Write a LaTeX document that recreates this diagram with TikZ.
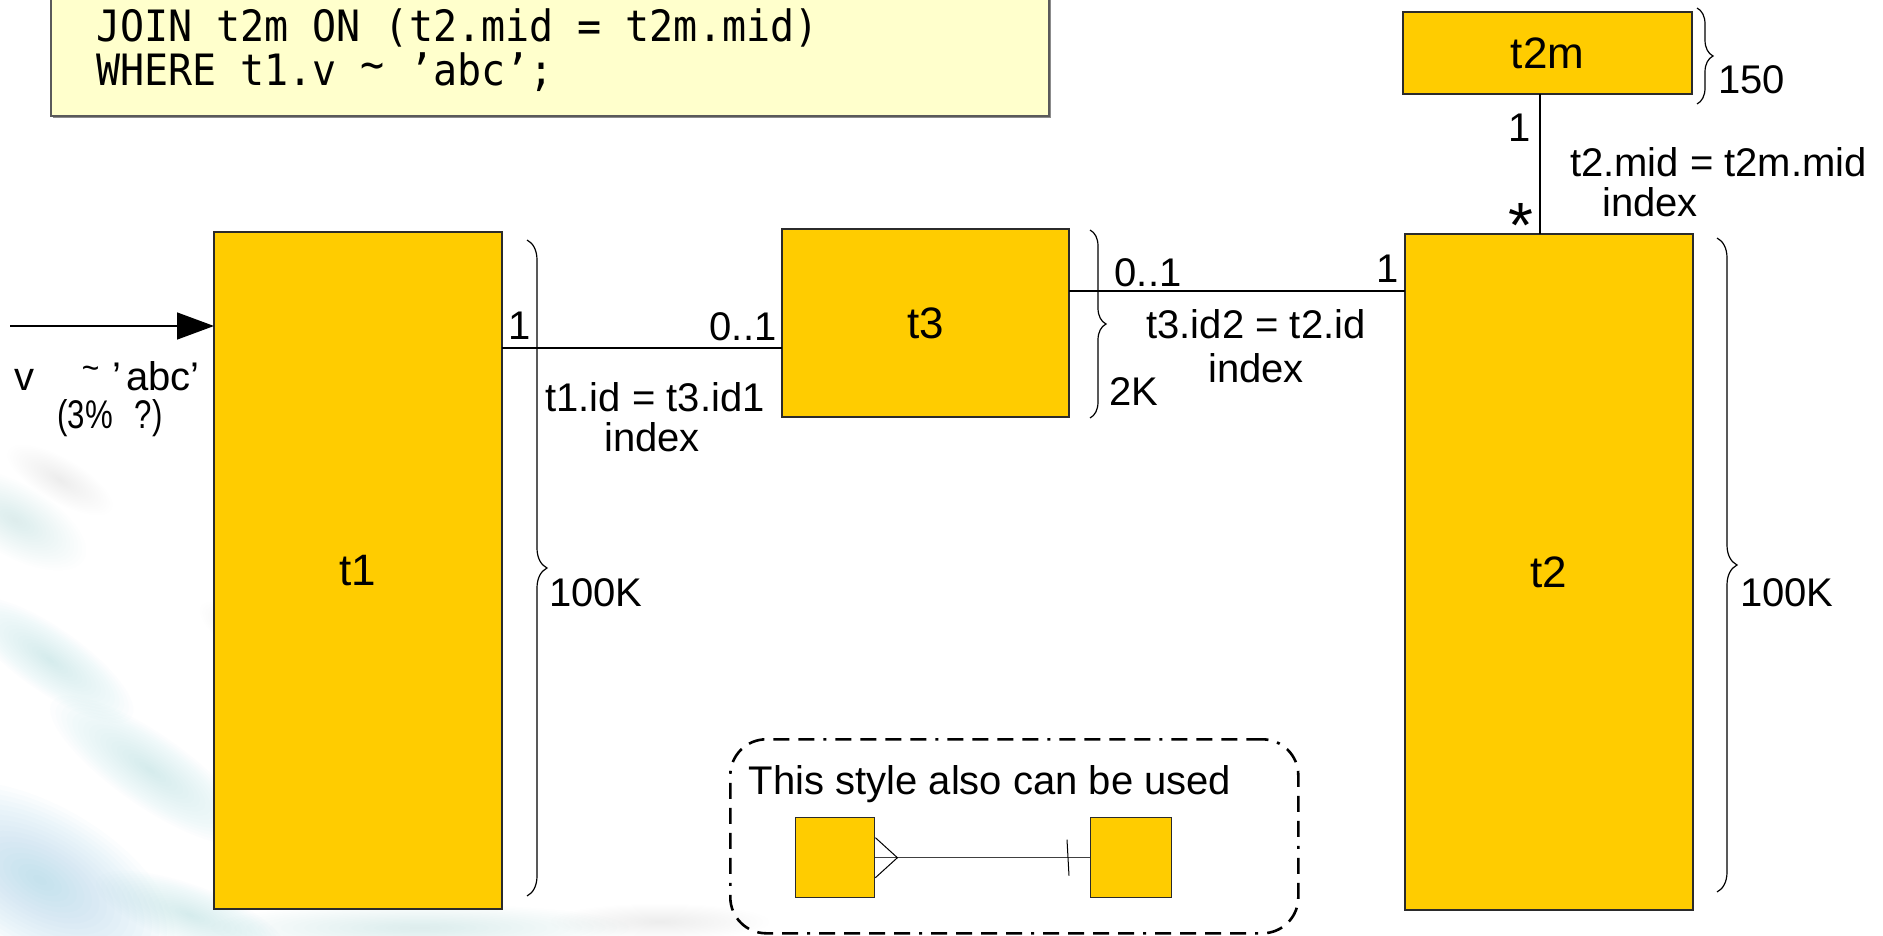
\documentclass[tikz,border=0pt]{standalone}
\usepackage{fontspec}
\setmainfont{Liberation Sans}
\newfontfamily\codefont{DejaVu Sans Mono}
\usetikzlibrary{arrows.meta,decorations.pathreplacing,shadows}

\definecolor{tablefill}{HTML}{FFCC00}
\definecolor{tableedge}{HTML}{2B2B2B}
\definecolor{notefill}{HTML}{FFFFCC}
\definecolor{noteedge}{HTML}{5A5A5A}
\definecolor{washblue}{HTML}{8CCBE6}

\tikzset{
  tablebox/.style={draw=tableedge, line width=1.6pt, fill=tablefill, inner sep=0pt,
    outer sep=0pt, anchor=north west, font=\fontsize{44}{50}\selectfont},
  link/.style={draw=black, line width=1.4pt},
  lbl/.style={inner sep=0pt, outer sep=0pt, font=\fontsize{40}{46}\selectfont},
  codeline/.style={inner sep=0pt, outer sep=0pt, anchor=base west,
    font=\codefont\fontsize{40}{46}\selectfont},
  sizebrace/.style={draw=black, line width=1.2pt, decorate,
    decoration={brace, amplitude=#1}},
  notebox/.style={draw=noteedge, line width=1.5pt, fill=notefill, inner sep=0pt,
    drop shadow={shadow xshift=2pt, shadow yshift=-2pt, fill=black!45, opacity=1}},
  legendframe/.style={draw=black, line width=2.6pt, rounded corners=36pt,
    dash pattern=on 16pt off 9pt on 16pt off 9pt on 16pt off 9pt on 16pt off 9pt on 3pt off 9pt,
    anchor=north west, inner sep=0pt},
  minibox/.style={draw=tableedge, line width=1.4pt, fill=tablefill, inner sep=0pt,
    anchor=north west, minimum height=80pt},
}

\begin{document}
\begin{tikzpicture}[x=1pt, y=-1pt]
  \useasboundingbox (0,0) rectangle (1883,936);
  \clip (0,0) rectangle (1883,936);
  \fill[white] (0,0) rectangle (1883,936);

  % soft watercolour wash in the lower left corner
  \foreach \cx/\cy/\rx/\ry/\ang/\op in {
      40/880/150/75/-30/0.55, 150/770/120/36/-35/0.32, 50/660/100/32/-35/0.32,
      15/520/80/36/-30/0.2, 190/915/100/30/-20/0.32, 420/928/210/24/0/0.2,
      60/480/60/22/-30/0.1, 660/922/110/18/0/0.14, 250/640/60/20/-35/0.14}{
    \foreach \k in {1,...,18}{
      \pgfmathsetmacro\layerop{\op/18}
      \pgfmathsetmacro\shrink{1.05-\k/18}
      \fill[washblue, fill opacity=\layerop, rotate around={\ang:(\cx,\cy)}]
        (\cx,\cy) ellipse [x radius=\rx*\shrink pt, y radius=\ry*\shrink pt];
    }
  }

  % SQL note
  \node[notebox, anchor=south west, minimum width=998pt, minimum height=130pt] (sql) at (50,117) {};
  \node[codeline] (sqlA) at (96,42) {\scalebox{1}[1.08]{JOIN t2m ON (t2.mid = t2m.mid)}};
  \node[codeline] (sqlB) at (96,86)
    {\scalebox{1}[1.08]{WHERE t1.v \raisebox{6pt}{\textasciitilde} ’abc’;}};

  % tables
  \node[tablebox, minimum width=288pt, minimum height=677pt] (t1) at (214,232) {t1};
  \node[tablebox, minimum width=287pt, minimum height=188pt] (t3) at (782,229) {t3};
  \node[tablebox, minimum width=288pt, minimum height=676pt] (t2) at (1405,234) {t2};
  \node[tablebox, minimum width=289pt, minimum height=82pt] (t2m) at (1403,12) {t2m};

  % filter arrow into t1
  \coordinate (vin) at (10,326);
  \draw[link, -{Triangle[length=37pt, width=27pt]}] (vin) -- (vin -| t1.west);
  \node[lbl, anchor=west] (vcond) at (14,376)
    {v\hspace{48pt}\raisebox{11pt}{\scalebox{0.75}[0.85]{\textasciitilde}}\hspace{13pt}’\hspace{5pt}abc’};
  \node[lbl] (vsel) at (110,418) {\scalebox{0.78}[1.0]{(3\%\hspace{28pt}?)}};

  % t1 -- t3
  \draw[link] ([yshift=-116pt]t1.north east) -- ([yshift=-116pt]t1.north east -| t3.west);
  \node[lbl] (m13a) at (520,326) {1};
  \node[lbl] (m13b) at (743,327) {0..1};
  \node[lbl] (j13) at (655,397) {t1.id = t3.id1};
  \node[lbl] (i13) at (652,437) {index};

  % t3 -- t2
  \draw[link] ([yshift=-62pt]t3.north east) -- ([yshift=-62pt]t3.north east -| t2.west);
  \node[lbl] (m32a) at (1148,273) {0..1};
  \node[lbl] (m32b) at (1388,269) {1};
  \node[lbl] (j32) at (1256,324) {t3.id2 = t2.id};
  \node[lbl] (i32) at (1256,368) {index};

  % t2m -- t2
  \draw[link] ([xshift=137pt]t2m.south west) -- ([xshift=137pt]t2m.south west |- t2.north);
  \node[lbl] (m2ma) at (1520,128) {1};
  \node[inner sep=0pt, anchor=base, font=\fontsize{64}{70}\selectfont] (m2mb) at (1521,248) {*};
  \node[lbl, anchor=west] (j2m) at (1570,162) {t2.mid = t2m.mid};
  \node[lbl] (i2m) at (1650,202) {index};

  % row counts
  \draw[sizebrace=20pt] (527,240) -- (527,896);
  \node[lbl, anchor=west] (n1) at (549,593) {100K};
  \draw[sizebrace=16pt] (1090,230) -- (1090,418);
  \node[lbl] (n3) at (1134,392) {2K};
  \draw[sizebrace=20pt] (1717,238) -- (1717,892);
  \node[lbl, anchor=west] (n2) at (1740,593) {100K};
  \draw[sizebrace=16pt] (1697,8) -- (1697,104);
  \node[lbl, anchor=west] (n2m) at (1718,80) {150};

  % alternative notation
  \node[legendframe, minimum width=568pt, minimum height=194pt] (legend) at (729,738) {};
  \node[lbl] (legendtxt) at (990,784) {This style also can be used};
  \node[minibox, minimum width=79pt] (lgA) at (795,817) {};
  \node[minibox, minimum width=81pt] (lgB) at (1090,817) {};
  \draw[line width=1.5pt, draw=black!75] (lgA.east) -- (lgB.west);
  \draw[line width=1pt] ([yshift=20pt]lgA.east) -- ([xshift=22pt]lgA.east) -- ([yshift=-20pt]lgA.east);
  \draw[line width=1pt] ([xshift=-23pt, yshift=18pt]lgB.west) -- ([xshift=-21pt, yshift=-18pt]lgB.west);
\end{tikzpicture}
\end{document}
